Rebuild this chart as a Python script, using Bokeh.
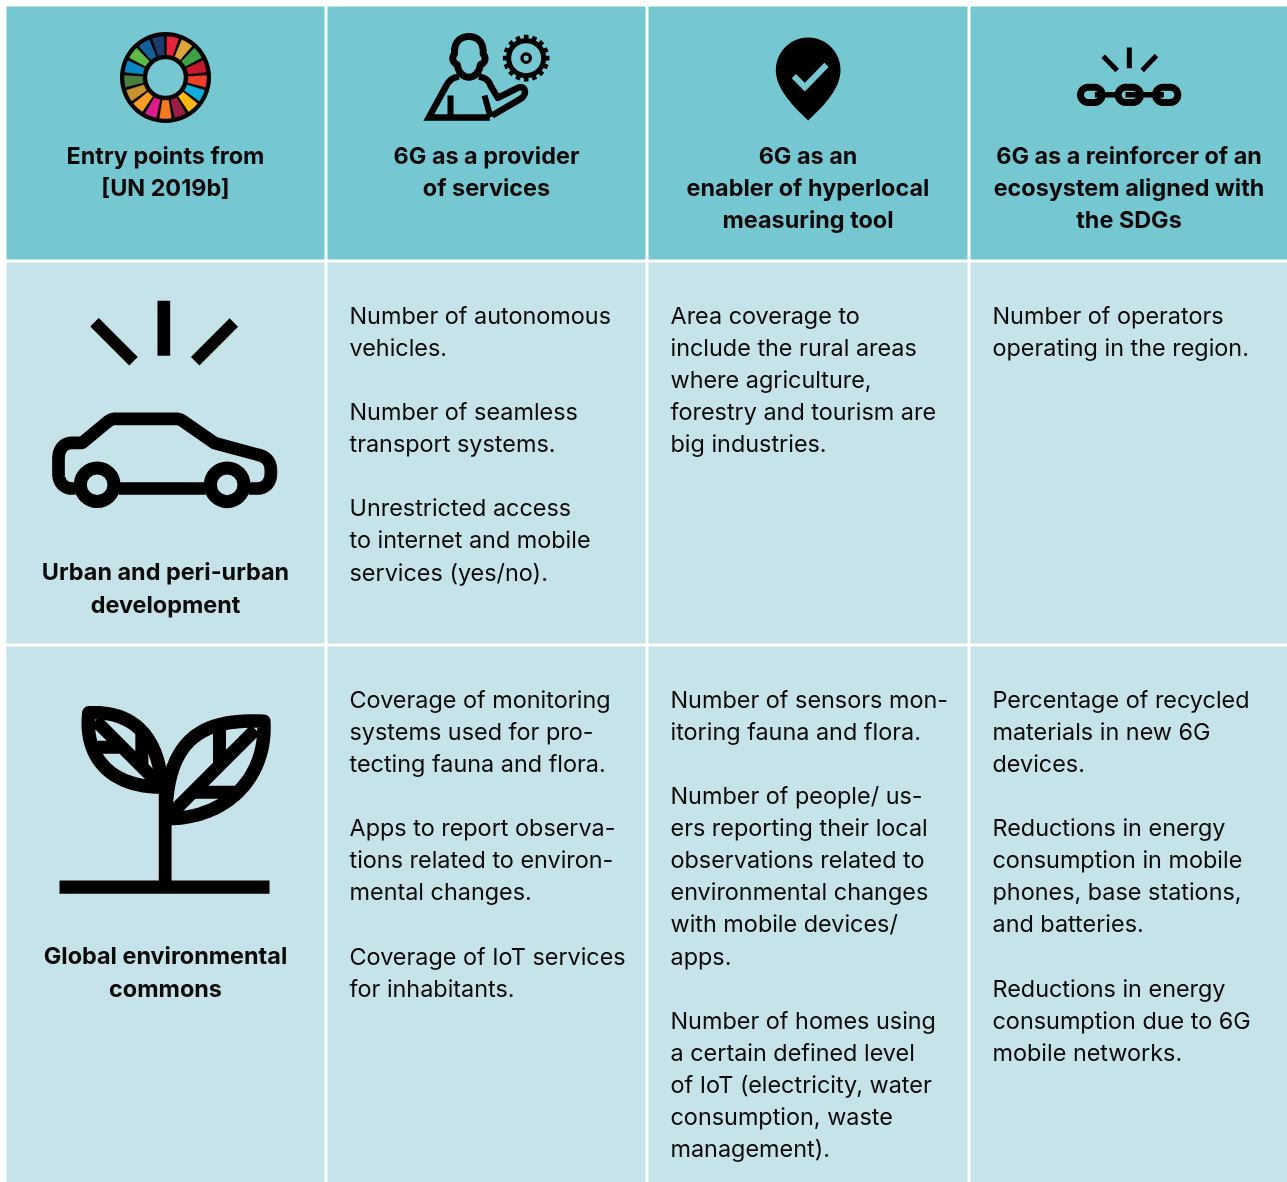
import math
from bokeh.plotting import figure
from bokeh.core.properties import value
from bokeh.embed import file_html
from bokeh.resources import INLINE

HEADERS = [
    ["Entry points from", "[UN 2019b]"],
    ["6G as a provider", "of services"],
    ["6G as an", "enabler of hyperlocal", "measuring tool"],
    ["6G as a reinforcer of an", "ecosystem aligned with", "the SDGs"],
]
ROW_LABELS = [["Urban and peri-urban", "development"], ["Global environmental", "commons"]]
ROW1 = [
    ["Number of autonomous", "vehicles.", "", "Number of seamless", "transport systems.", "",
     "Unrestricted access", "to internet and mobile", "services (yes/no)."],
    ["Area coverage to", "include the rural areas", "where agriculture,", "forestry and tourism are", "big industries."],
    ["Number of operators", "operating in the region."],
]
ROW2 = [
    ["Coverage of monitoring", "systems used for pro-", "tecting fauna and flora.", "",
     "Apps to report observa-", "tions related to environ-", "mental changes.", "",
     "Coverage of IoT services", "for inhabitants."],
    ["Number of sensors mon-", "itoring fauna and flora.", "",
     "Number of people/ us-", "ers reporting their local", "observations related to", "environmental changes",
     "with mobile devices/", "apps.", "",
     "Number of homes using", "a certain defined level", "of IoT (electricity, water", "consumption, waste", "management)."],
    ["Percentage of recycled", "materials in new 6G", "devices.", "",
     "Reductions in energy", "consumption in mobile", "phones, base stations,", "and batteries.", "",
     "Reductions in energy", "consumption due to 6G", "mobile networks."],
]
SDG_COLORS = ["#e5243b", "#dda63a", "#3f9f45", "#c5192d", "#f0402b", "#10aedb", "#fcb711", "#9b1b45",
              "#f47a20", "#dd1a8b", "#f99d26", "#c6922d", "#4b7d40", "#0a85c6", "#5dbb46", "#14619a", "#1a3c6e"]

COL_L = [6, 327, 648, 970]
COL_R = [324, 645, 967, 1287]
ROW_T = [6, 262, 646]
ROW_B = [259, 643, 1182]
HEAD = "#75c7d2"
BODY = "#c5e3e9"
INK = "#000000"
FONT = value("Inter")
FS = "23.4px"
STEP = 32.07

p = figure(width=1287, height=1182, x_range=(0, 1287), y_range=(1182, 0), output_backend="svg",
           toolbar_location=None, min_border=0, outline_line_color=None, background_fill_color="white",
           border_fill_color="white", styles={"position": "fixed", "left": "0px", "top": "0px"})
p.axis.visible = False
p.grid.visible = False

for r in range(3):
    p.quad(left=COL_L, right=COL_R, top=[ROW_T[r]] * 4, bottom=[ROW_B[r]] * 4,
           fill_color=HEAD if r == 0 else BODY, line_color=None)


def txt(x, y, s, bold=False, align="left"):
    p.text([x], [y], text=[s], text_font=FONT, text_font_size=FS, text_color="#0a0a0a",
           text_align=align, text_baseline="alphabetic", text_font_style="bold" if bold else "normal")


for i, lines in enumerate(HEADERS):
    cx = (COL_L[i] + COL_R[i]) / 2
    for n, s in enumerate(lines):
        txt(cx, 155 + n * 32, s, True, "center")
for lines, top in zip(ROW_LABELS, (571, 955)):
    for n, s in enumerate(lines):
        txt(165, top + n * 32.5, s, True, "center")
for rows, top in ((ROW1, 315), (ROW2, 699)):
    for j, lines in enumerate(rows):
        for n, s in enumerate(lines):
            if s:
                txt(COL_L[j + 1] + 22, top + n * STEP, s)


def bez(a, b, c, d, k=24):
    out = []
    for i in range(k + 1):
        t = i / k
        u = 1 - t
        out.append((u**3 * a[0] + 3 * u * u * t * b[0] + 3 * u * t * t * c[0] + t**3 * d[0],
                    u**3 * a[1] + 3 * u * u * t * b[1] + 3 * u * t * t * c[1] + t**3 * d[1]))
    return out


def stroke(pts, ox, oy, w, cap="butt", join="round", color=INK):
    xs = [ox + q[0] / 3 for q in pts]
    ys = [oy + q[1] / 3 for q in pts]
    p.line(xs, ys, line_color=color, line_width=w, line_cap=cap, line_join=join)


def ring(x, y, r, w, color=INK):
    p.circle([x], [y], radius=r, fill_color=None, line_color=color, line_width=w)


# SDG wheel
WX, WY = 165, 77
p.circle([WX], [WY], radius=45.5, fill_color=INK, line_color=None)
p.circle([WX], [WY], radius=18.3, fill_color=HEAD, line_color=None)
n = len(SDG_COLORS)
for i, c in enumerate(SDG_COLORS):
    a0 = 2 * math.pi * i / n + 0.03
    a1 = 2 * math.pi * (i + 1) / n - 0.03
    ang = [a0 + (a1 - a0) * k / 6 for k in range(7)]
    xs = [WX + 41.5 * math.sin(a) for a in ang] + [WX + 22.5 * math.sin(a) for a in reversed(ang)]
    ys = [WY - 41.5 * math.cos(a) for a in ang] + [WY - 22.5 * math.cos(a) for a in reversed(ang)]
    p.patch(xs, ys, fill_color=c, line_color=INK, line_width=0.5)

# Person + gear
O = (410, 20)
head = (bez((175, 48), (145, 48), (130, 70), (132, 100)) + bez((132, 100), (122, 112), (128, 128), (140, 132))
        + bez((140, 132), (145, 160), (160, 170), (175, 170)) + bez((175, 170), (190, 170), (205, 160), (210, 132))
        + bez((210, 132), (224, 128), (228, 112), (218, 100)) + bez((218, 100), (220, 70), (205, 48), (175, 48)))
stroke(head, *O, 7, cap="round")
stroke(bez((145, 168), (125, 172), (115, 180), (105, 200)) + [(55, 291), (238, 291)], *O, 6.5, join="miter")
stroke([(120, 225), (120, 291)], *O, 6)
stroke(bez((205, 168), (225, 172), (235, 180), (240, 195)) + [(262, 232), (322, 202)]
       + bez((322, 202), (345, 192), (352, 222), (330, 235)) + [(245, 285)], *O, 6.5)
stroke([(222, 225), (240, 290)], *O, 6)
GX, GY = 410 + 347 / 3, 20 + 113 / 3
ring(GX, GY, 17.5, 5)
ring(GX, GY, 4.2, 3.3)
for i in range(16):
    a = 2 * math.pi * i / 16
    p.line([GX + 18 * math.cos(a), GX + 23.3 * math.cos(a)], [GY + 18 * math.sin(a), GY + 23.3 * math.sin(a)],
           line_color=INK, line_width=4.6)

# Pin
O = (760, 25)
arc = [(143 + 97 * math.cos(math.pi * (1 + k / 24)), 133 + 97 * math.sin(math.pi * (1 + k / 24))) for k in range(25)]
pin = arc + bez((240, 133), (240, 190), (190, 240), (143, 285)) + bez((143, 285), (96, 240), (46, 190), (46, 133))
p.patch([O[0] + q[0] / 3 for q in pin], [O[1] + q[1] / 3 for q in pin], fill_color=INK, line_color=None)
stroke([(100, 152), (133, 185), (198, 118)], *O, 6, join="miter", color=HEAD)

# Broken chain
O = (1060, 35)
stroke([(206.5, 36), (206.5, 98)], *O, 5)
stroke([(128, 62), (170, 105)], *O, 5)
stroke([(288, 60), (245, 105)], *O, 5)


def link(a, b, y=178, r=23):
    pts = [(a + r + r * math.cos(math.pi * (0.5 + k / 12)), y + r * math.sin(math.pi * (0.5 + k / 12))) for k in range(13)]
    pts += [(b - r + r * math.cos(math.pi * (1.5 + k / 12)), y + r * math.sin(math.pi * (1.5 + k / 12))) for k in range(13)]
    return pts + pts[:1]


for a, b in ((60, 125), (173, 240), (285, 352)):
    stroke(link(a, b), *O, 7, cap="round")
for a, b in ((103, 172), (195, 230), (241, 310)):
    stroke([(a, 178), (b, 178)], *O, 5.5)

# Car
O = (30, 285)
stroke([(400, 46), (400, 211)], *O, 12.7)
stroke([(192, 110), (309, 227)], *O, 12)
stroke([(610, 111), (494, 227)], *O, 12)
body = ([(135, 609), (125, 609)] + bez((125, 609), (100, 609), (84, 590), (84, 565)) + [(84, 520)]
        + bez((84, 520), (84, 490), (100, 472), (125, 472)) + [(155, 472), (230, 410)]
        + bez((230, 410), (238, 403), (246, 400), (255, 400)) + [(435, 400)]
        + bez((435, 400), (445, 400), (452, 403), (458, 407)) + [(553, 473), (690, 510)]
        + bez((690, 510), (710, 516), (721, 532), (721, 555)) + [(721, 565)]
        + bez((721, 565), (721, 590), (705, 609), (680, 609)) + [(655, 609)])
stroke(body, *O, 12.7)
stroke([(265, 609), (525, 609)], *O, 12.7)
ring(30 + 200 / 3, 285 + 598 / 3, 16.8, 13)
ring(30 + 590 / 3, 285 + 598 / 3, 16.8, 13)

# Plant
O = (40, 690)
p.quad(left=[59], right=[269], top=[880], bottom=[893.3], fill_color=INK, line_color=None)
stroke([(374, 290), (374, 572)], *O, 12.8)
stroke(bez((145, 67), (270, 60), (355, 130), (364, 290)) + bez((364, 290), (210, 290), (130, 200), (145, 67)),
       *O, 13.5, cap="round")
stroke([(165, 90), (345, 270)], *O, 13)
stroke([(160, 170), (245, 170)], *O, 13)
stroke([(304, 122), (304, 229)], *O, 13)
stroke(bez((670, 92), (500, 85), (376, 130), (376, 385)) + bez((376, 385), (560, 385), (680, 260), (670, 92)),
       *O, 13.5, cap="round")
stroke([(645, 117), (385, 377)], *O, 13)
stroke([(537, 112), (537, 225)], *O, 13)
stroke([(455, 305), (595, 305)], *O, 13)

open("out.html", "w").write(file_html(p, INLINE))
